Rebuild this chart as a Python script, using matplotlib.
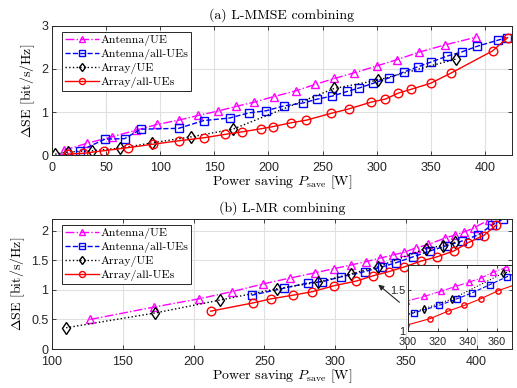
import matplotlib
matplotlib.use("Agg")
import matplotlib.pyplot as plt

# (a) L-MMSE combining
A_ANT_UE_X = [11, 32, 55, 78, 97, 117, 135, 153, 170, 187, 205, 225, 243, 261, 279, 300, 319, 339, 363, 392]
A_ANT_UE_Y = [0.11, 0.27, 0.42, 0.58, 0.71, 0.81, 0.92, 1.02, 1.13, 1.23, 1.36, 1.49, 1.64, 1.78, 1.91, 2.07, 2.22, 2.39, 2.56, 2.74]
A_ANT_ALL_X = [26, 49, 67, 82, 117, 140, 164, 182, 198, 214, 232, 245, 259, 273, 284, 297, 311, 325, 338, 350, 365, 379, 393, 412, 420]
A_ANT_ALL_Y = [0.10, 0.37, 0.38, 0.60, 0.62, 0.80, 0.86, 0.98, 1.03, 1.14, 1.21, 1.30, 1.37, 1.48, 1.56, 1.67, 1.79, 1.93, 2.05, 2.16, 2.30, 2.40, 2.53, 2.67, 2.73]
A_ARR_UE_X = [3, 15, 37, 63, 92, 128, 167, 261, 301, 373]
A_ARR_UE_Y = [0.02, 0.07, 0.10, 0.16, 0.28, 0.42, 0.60, 1.55, 1.74, 2.23]
A_ARR_ALL_X = [15, 29, 48, 70, 93, 117, 140, 160, 176, 193, 204, 221, 235, 258, 274, 295, 308, 320, 332, 350, 369, 407, 421]
A_ARR_ALL_Y = [0.02, 0.04, 0.10, 0.17, 0.25, 0.33, 0.40, 0.48, 0.54, 0.61, 0.66, 0.75, 0.81, 0.97, 1.07, 1.23, 1.30, 1.44, 1.53, 1.67, 1.91, 2.42, 2.73]

# (b) L-MR combining
B_ANT_UE_X = [127, 172, 204, 227, 249, 268, 286, 299, 311, 322, 332, 341, 349, 357, 366, 378, 385, 391, 398, 409]
B_ANT_UE_Y = [0.50, 0.71, 0.85, 0.97, 1.10, 1.20, 1.29, 1.36, 1.42, 1.48, 1.54, 1.59, 1.64, 1.71, 1.77, 1.88, 1.93, 1.98, 2.05, 2.19]
B_ANT_ALL_X = [241, 264, 281, 291, 304, 321, 333, 343, 355, 367, 379, 390, 401, 411, 419]
B_ANT_ALL_Y = [0.91, 1.03, 1.12, 1.14, 1.22, 1.31, 1.39, 1.46, 1.56, 1.66, 1.75, 1.83, 1.93, 2.10, 2.20]
B_ARR_UE_X = [110, 173, 219, 259, 288, 311, 330, 364, 376, 385]
B_ARR_UE_Y = [0.36, 0.61, 0.83, 1.02, 1.13, 1.27, 1.39, 1.70, 1.75, 1.81]
B_ARR_ALL_X = [212, 242, 255, 270, 284, 299, 315, 327, 338, 349, 361, 372, 384, 394, 405, 414]
B_ARR_ALL_Y = [0.64, 0.78, 0.85, 0.91, 0.97, 1.07, 1.15, 1.24, 1.31, 1.39, 1.49, 1.56, 1.66, 1.80, 1.92, 2.10]

LABELS = ["Antenna/UE", "Antenna/all-UEs", "Array/UE", "Array/all-UEs"]
STYLES = [
    dict(color=(1, 0, 1), linestyle="-.", marker="^"),
    dict(color=(0, 0, 1), linestyle="--", marker="s"),
    dict(color="black", linestyle=":", marker="d"),
    dict(color=(1, 0, 0), linestyle="-", marker="o"),
]

SERIF = "cmr10"
plt.rcParams["mathtext.fontset"] = "cm"
plt.rcParams["font.family"] = ["Liberation Sans", "DejaVu Sans"]
plt.rcParams["axes.unicode_minus"] = False

EDGE = "#262626"
TICK_SIZE = 9
LABEL_SIZE = 10


def style_axes(ax, labelsize=TICK_SIZE):
    ax.grid(True, color="#e0e0e0", linewidth=0.8)
    ax.set_axisbelow(True)
    ax.tick_params(direction="in", top=True, right=True, labelsize=labelsize,
                   colors=EDGE, length=3, width=0.6, pad=2.5)
    ax.tick_params(axis="x", pad=5)
    for spine in ax.spines.values():
        spine.set_color(EDGE)
        spine.set_linewidth(0.7)


def draw_series(ax, series, ms, lw=1.0):
    for (x, y), label, st in zip(series, LABELS, STYLES):
        ax.plot(x, y, label=label, markersize=ms, markerfacecolor="none",
                markeredgewidth=1.0, linewidth=lw, **st)


def add_legend(ax):
    leg = ax.legend(loc="upper left", bbox_to_anchor=(0.021, 0.953),
                    borderaxespad=0, prop={"family": SERIF, "size": 8.5},
                    handlelength=2.9, handletextpad=0.15, borderpad=0.25,
                    labelspacing=0.22, markerscale=0.7, fancybox=False,
                    framealpha=1, edgecolor=EDGE)
    leg.get_frame().set_linewidth(0.7)


fig = plt.figure(figsize=(5.17, 3.88), dpi=100)

# top panel
ax1 = fig.add_axes([0.1006, 0.6005, 0.8897, 0.3325])
style_axes(ax1)
draw_series(ax1, [(A_ANT_UE_X, A_ANT_UE_Y), (A_ANT_ALL_X, A_ANT_ALL_Y),
                  (A_ARR_UE_X, A_ARR_UE_Y), (A_ARR_ALL_X, A_ARR_ALL_Y)], ms=6.2)
ax1.set_xlim(0, 425)
ax1.set_ylim(0, 3)
ax1.set_xticks(range(0, 401, 50))
ax1.set_yticks([0, 1, 2, 3])
ax1.set_title("(a) L-MMSE combining", family=SERIF, fontsize=LABEL_SIZE, pad=5)
ax1.set_xlabel(r"Power saving $P_{\mathrm{save}}$ [W]", family=SERIF, fontsize=LABEL_SIZE, labelpad=0)
ax1.set_ylabel(r"$\Delta$SE [bit/s/Hz]", family=SERIF, fontsize=LABEL_SIZE, labelpad=3)
add_legend(ax1)

# bottom panel
ax2 = fig.add_axes([0.1006, 0.1005, 0.8897, 0.335])
style_axes(ax2)
series_b = [(B_ANT_UE_X, B_ANT_UE_Y), (B_ANT_ALL_X, B_ANT_ALL_Y),
            (B_ARR_UE_X, B_ARR_UE_Y), (B_ARR_ALL_X, B_ARR_ALL_Y)]
draw_series(ax2, series_b, ms=6.2)
ax2.set_xlim(100, 425)
ax2.set_ylim(0, 2.2)
ax2.set_xticks(range(100, 401, 50))
ax2.set_yticks([0, 0.5, 1, 1.5, 2])
ax2.set_yticklabels(["0", "0.5", "1", "1.5", "2"])
ax2.set_title("(b) L-MR combining", family=SERIF, fontsize=LABEL_SIZE, pad=5)
ax2.set_xlabel(r"Power saving $P_{\mathrm{save}}$ [W]", family=SERIF, fontsize=LABEL_SIZE, labelpad=0)
ax2.set_ylabel(r"$\Delta$SE [bit/s/Hz]", family=SERIF, fontsize=LABEL_SIZE, labelpad=3)
add_legend(ax2)

ax2.annotate("", xy=(329, 1.12), xytext=(347, 0.76),
             arrowprops=dict(arrowstyle="-|>", color=EDGE, lw=0.8,
                             mutation_scale=8))

# inset
axi = fig.add_axes([0.789, 0.147, 0.201, 0.170])
style_axes(axi, labelsize=7.8)
draw_series(axi, series_b, ms=3.8, lw=0.8)
axi.set_xlim(300, 370)
axi.set_ylim(1, 1.8)
axi.set_xticks([300, 320, 340, 360])
axi.set_yticks([1, 1.5])
axi.set_yticklabels(["1", "1.5"])
axi.tick_params(length=2, pad=2)
axi.tick_params(axis="x", pad=4)

fig.savefig("out.png", dpi=100)
